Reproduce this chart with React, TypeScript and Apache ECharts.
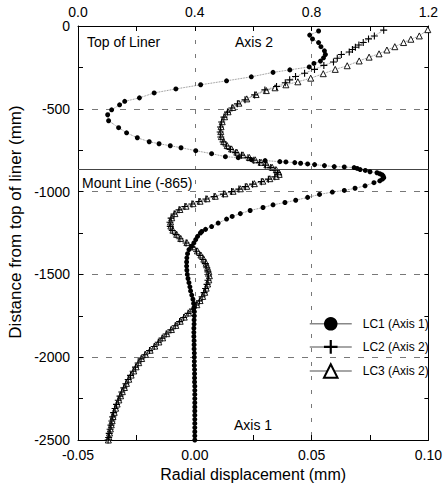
import React, { useEffect, useRef } from "react";
import * as echarts from "echarts";

// LC1 on Axis 1 (bottom, mm): [radial displacement, depth]
const LC1_POINTS: [number, number][] = [
  [0.053, -30], [0.0492, -55], [0.0504, -78], [0.053, -100], [0.054, -125], [0.0555, -150],
  [0.0559, -172], [0.0551, -192], [0.0538, -212], [0.051, -226], [0.049, -247], [0.0407, -265],
  [0.0335, -280], [0.0242, -307], [0.0136, -331], [0.0025, -355], [-0.0081, -380], [-0.0174, -404],
  [-0.0237, -434], [-0.03, -455], [-0.0322, -476], [-0.0356, -506], [-0.0373, -536], [-0.0369, -572],
  [-0.0326, -614], [-0.0292, -645], [-0.0246, -675], [-0.0195, -699], [-0.0153, -711], [-0.0105, -723],
  [-0.0059, -735], [0.0004, -753], [0.0072, -771], [0.0131, -789], [0.0186, -795], [0.0242, -807],
  [0.0301, -813], [0.0364, -819], [0.039, -821], [0.0428, -825], [0.0453, -829], [0.0483, -833],
  [0.0513, -837], [0.0555, -843], [0.0597, -849], [0.064, -851], [0.0682, -855], [0.0695, -860],
  [0.0708, -867], [0.073, -872], [0.075, -880], [0.078, -886], [0.0792, -892], [0.0801, -898],
  [0.0806, -905], [0.0809, -916], [0.0803, -925], [0.0792, -935], [0.0767, -946], [0.0729, -965],
  [0.0686, -980], [0.064, -993], [0.0589, -1003], [0.0534, -1017], [0.0483, -1035], [0.0432, -1052],
  [0.0386, -1066], [0.0335, -1080], [0.0292, -1096], [0.0237, -1114], [0.0195, -1133], [0.016, -1150],
  [0.0136, -1166], [0.01, -1190], [0.0072, -1211], [0.0046, -1228], [0.003, -1241], [0.0024, -1250],
  [0.0012, -1270], [0.0004, -1290], [-0.0004, -1310], [-0.0014, -1330], [-0.0025, -1350], [-0.0031, -1375],
  [-0.0034, -1400], [-0.0035, -1425], [-0.0035, -1450], [-0.0034, -1475], [-0.0032, -1500], [-0.0029, -1525],
  [-0.0025, -1550], [-0.0021, -1575], [-0.0018, -1600], [-0.0013, -1625], [-0.0008, -1650], [-0.0005, -1675],
  [-0.0003, -1700], [-0.0002, -1725], [-0.0002, -1750], [-0.0003, -1775], [-0.0003, -1800], [-0.0004, -1825],
  [-0.0004, -1850], [-0.0004, -1875], [-0.0003, -1900], [-0.0003, -1925], [-0.0003, -1950], [-0.0002, -1975],
  [-0.0002, -2000], [-0.0002, -2025], [-0.0002, -2050], [-0.0001, -2075], [-0.0001, -2100], [-0.0001, -2125],
  [-0.0001, -2150], [0.0, -2175], [0.0, -2200], [0.0, -2225], [0.0, -2250], [0.0, -2275], [0.0, -2300],
  [0.0, -2325], [0.0, -2350], [0.0, -2375], [0.0, -2400], [0.0, -2425], [0.0, -2450], [0.0, -2475], [0.0, -2500],
];

// LC2 on Axis 2 (top)
const LC2_POINTS: [number, number][] = [
  [1.047, -25], [1.015, -60], [0.995, -78], [0.977, -100], [0.962, -115], [0.95, -128], [0.94, -142],
  [0.929, -157], [0.902, -172], [0.888, -195], [0.875, -217], [0.842, -238], [0.81, -262], [0.776, -285],
  [0.745, -305], [0.725, -325], [0.71, -343], [0.68, -365], [0.64, -386], [0.605, -416], [0.572, -446],
  [0.546, -470], [0.527, -495], [0.512, -520], [0.5, -550], [0.492, -580], [0.488, -610], [0.487, -640],
  [0.489, -670], [0.497, -700], [0.508, -725], [0.522, -745], [0.54, -765], [0.56, -780], [0.582, -795],
  [0.602, -810], [0.622, -825], [0.642, -840], [0.66, -855], [0.675, -870], [0.683, -885], [0.684, -898],
  [0.674, -910], [0.652, -925], [0.628, -940], [0.598, -955], [0.573, -970], [0.551, -985], [0.526, -1000],
  [0.498, -1015], [0.466, -1030], [0.438, -1045], [0.414, -1060], [0.39, -1075], [0.366, -1090], [0.346, -1110],
  [0.329, -1135], [0.319, -1160], [0.315, -1185], [0.316, -1210], [0.323, -1235], [0.336, -1260], [0.349, -1285],
  [0.37, -1310], [0.391, -1335], [0.406, -1360], [0.418, -1385], [0.428, -1410], [0.436, -1435], [0.441, -1460],
  [0.445, -1485], [0.447, -1510], [0.445, -1535], [0.442, -1560], [0.437, -1585], [0.432, -1610], [0.425, -1635],
  [0.416, -1660], [0.405, -1685], [0.392, -1710], [0.377, -1735], [0.362, -1760], [0.348, -1785], [0.333, -1810],
  [0.318, -1835], [0.302, -1860], [0.288, -1885], [0.275, -1910], [0.261, -1935], [0.245, -1960], [0.229, -1985],
  [0.216, -2010], [0.206, -2035], [0.197, -2060], [0.189, -2085], [0.18, -2110], [0.172, -2135], [0.164, -2160],
  [0.157, -2185], [0.15, -2210], [0.144, -2235], [0.138, -2260], [0.132, -2285], [0.127, -2310], [0.122, -2335],
  [0.119, -2360], [0.116, -2385], [0.113, -2410], [0.11, -2435], [0.107, -2460], [0.105, -2485], [0.103, -2500],
];

// LC3 on Axis 2 (top)
const LC3_POINTS: [number, number][] = [
  [1.198, -22], [1.169, -60], [1.14, -80], [1.115, -100], [1.085, -125], [1.058, -145], [1.031, -168],
  [0.997, -188], [0.963, -211], [0.922, -240], [0.881, -262], [0.84, -288], [0.797, -315], [0.753, -337],
  [0.712, -355], [0.675, -373], [0.645, -390], [0.61, -414], [0.578, -440], [0.551, -466], [0.53, -492],
  [0.514, -518], [0.502, -548], [0.494, -578], [0.49, -608], [0.489, -638], [0.491, -668], [0.499, -698],
  [0.511, -722], [0.526, -742], [0.544, -762], [0.565, -778], [0.587, -794], [0.607, -808], [0.627, -823],
  [0.647, -838], [0.665, -853], [0.679, -868], [0.688, -883], [0.689, -896], [0.679, -908], [0.657, -922],
  [0.633, -937], [0.604, -952], [0.578, -968], [0.556, -983], [0.531, -998], [0.503, -1013], [0.47, -1028],
  [0.442, -1043], [0.418, -1058], [0.394, -1073], [0.37, -1088], [0.349, -1108], [0.332, -1133], [0.321, -1158],
  [0.317, -1183], [0.318, -1208], [0.325, -1233], [0.338, -1258], [0.352, -1283], [0.373, -1308], [0.394, -1333],
  [0.409, -1358], [0.421, -1383], [0.431, -1408], [0.439, -1433], [0.444, -1458], [0.448, -1483], [0.45, -1508],
  [0.448, -1533], [0.444, -1558], [0.439, -1583], [0.434, -1608], [0.427, -1633], [0.418, -1658], [0.407, -1683],
  [0.394, -1708], [0.379, -1733], [0.364, -1758], [0.35, -1783], [0.335, -1808], [0.32, -1833], [0.304, -1858],
  [0.29, -1883], [0.277, -1908], [0.263, -1933], [0.247, -1958], [0.231, -1983], [0.218, -2008], [0.208, -2033],
  [0.199, -2058], [0.191, -2083], [0.182, -2108], [0.174, -2133], [0.166, -2158], [0.159, -2183], [0.152, -2208],
  [0.146, -2233], [0.14, -2258], [0.134, -2283], [0.129, -2308], [0.124, -2333], [0.12, -2358], [0.117, -2383],
  [0.114, -2408], [0.111, -2433], [0.108, -2458], [0.106, -2483], [0.104, -2500],
];

const SERIES_NAMES = ["LC1 (Axis 1)", "LC2 (Axis 2)", "LC3 (Axis 2)"];
const MOUNT_LINE = -865;
const MOUNT_LABEL = "Mount Line (-865)";

const FONT = "'Liberation Sans', Arial, Helvetica, sans-serif";
const PLUS = "path://M4.2,0h1.6v4.2h4.2v1.6h-4.2v4.2h-1.6v-4.2h-4.2v-1.6h4.2z";

export default function App() {
  const ref = useRef<HTMLDivElement>(null);

  useEffect(() => {
    if (!ref.current) return;
    const chart = echarts.init(ref.current, null, { renderer: "svg" });
    const thinLine = { width: 0.8, color: "#666", type: "dotted" as const };

    chart.setOption({
      animation: false,
      backgroundColor: "#fff",
      grid: { left: 78, top: 26, right: 13, bottom: 49, containLabel: false },
      textStyle: { fontFamily: FONT },
      xAxis: [
        {
          type: "value",
          position: "bottom",
          min: -0.05,
          max: 0.1,
          interval: 0.05,
          name: "Radial displacement (mm)",
          nameLocation: "middle",
          nameGap: 25,
          nameTextStyle: { fontSize: 16, color: "#000", fontFamily: FONT },
          axisLine: { show: true, onZero: false, lineStyle: { color: "#000", width: 1 } },
          axisTick: { show: true, inside: true, length: 5, lineStyle: { color: "#000" } },
          minorTick: { show: true, splitNumber: 2, length: 5, lineStyle: { color: "#000" } },
          axisLabel: {
            fontSize: 14, color: "#000", margin: 8, fontFamily: FONT,
            formatter: (v: number) => v.toFixed(2),
          },
          splitLine: { show: true, lineStyle: { color: "#555", width: 0.8, type: [4, 10] } },
        },
        {
          type: "value",
          position: "top",
          min: 0,
          max: 1.2,
          interval: 0.4,
          axisLine: { show: true, onZero: false, lineStyle: { color: "#000", width: 1 } },
          axisTick: { show: true, inside: true, length: 5, lineStyle: { color: "#000" } },
          minorTick: { show: true, splitNumber: 2, length: 5, lineStyle: { color: "#000" } },
          axisLabel: {
            fontSize: 14, color: "#000", margin: 7, fontFamily: FONT,
            formatter: (v: number) => v.toFixed(1),
          },
          splitLine: { show: false },
        },
      ],
      yAxis: [
        {
          type: "value",
          position: "left",
          min: -2500,
          max: 0,
          interval: 500,
          axisLine: { show: true, onZero: false, lineStyle: { color: "#000", width: 1 } },
          axisTick: { show: true, inside: true, length: 5, lineStyle: { color: "#000" } },
          minorTick: { show: true, splitNumber: 2, length: 5, lineStyle: { color: "#000" } },
          axisLabel: {
            fontSize: 14, color: "#000", margin: 8, fontFamily: FONT,
            formatter: (v: number) => String(v),
          },
          splitLine: { show: true, lineStyle: { color: "#555", width: 0.8, type: [6, 8] } },
        },
        {
          type: "value",
          position: "right",
          min: -2500,
          max: 0,
          interval: 500,
          axisLine: { show: true, onZero: false, lineStyle: { color: "#000", width: 1 } },
          axisTick: { show: true, inside: true, length: 4, lineStyle: { color: "#000" } },
          minorTick: { show: true, splitNumber: 2, length: 4, lineStyle: { color: "#000" } },
          axisLabel: { show: false },
          splitLine: { show: false },
        },
      ],
      legend: {
        orient: "vertical",
        left: 304,
        top: 312,
        itemWidth: 42,
        itemHeight: 17,
        itemGap: 9.5,
        data: SERIES_NAMES,
        lineStyle: { type: "solid", width: 1.5, color: "#888" },
        textStyle: { fontSize: 12, color: "#000", fontFamily: FONT, padding: [0, 0, 0, 6] },
      },
      series: [
        {
          name: SERIES_NAMES[2],
          type: "line",
          xAxisIndex: 1,
          yAxisIndex: 0,
          data: LC3_POINTS,
          symbol: "triangle",
          symbolSize: 6,
          itemStyle: { color: "#fff", borderColor: "#000", borderWidth: 0.9 },
          lineStyle: thinLine,
          z: 3,
        },
        {
          name: SERIES_NAMES[1],
          type: "line",
          xAxisIndex: 1,
          yAxisIndex: 0,
          data: LC2_POINTS,
          symbol: PLUS,
          symbolSize: 7,
          itemStyle: { color: "#000" },
          lineStyle: thinLine,
          z: 4,
        },
        {
          name: SERIES_NAMES[0],
          type: "line",
          xAxisIndex: 0,
          yAxisIndex: 0,
          data: LC1_POINTS,
          symbol: "circle",
          symbolSize: 5,
          itemStyle: { color: "#000" },
          lineStyle: thinLine,
          z: 5,
          markLine: {
            silent: true,
            symbol: ["none", "none"],
            label: { show: false },
            lineStyle: { color: "#444", width: 1, type: "solid" },
            data: [{ yAxis: MOUNT_LINE }],
          },
        },
      ],
      graphic: [
        {
          type: "text", x: 87, y: 42,
          style: { text: "Top of Liner", fontSize: 14, fontFamily: FONT, fill: "#000", textVerticalAlign: "middle" },
        },
        {
          type: "text", x: 235, y: 42,
          style: { text: "Axis 2", fontSize: 14, fontFamily: FONT, fill: "#000", textVerticalAlign: "middle" },
        },
        {
          type: "text", x: 82, y: 183,
          style: { text: MOUNT_LABEL, fontSize: 14, fontFamily: FONT, fill: "#000", textVerticalAlign: "middle" },
        },
        {
          type: "text", x: 234, y: 425,
          style: { text: "Axis 1", fontSize: 14, fontFamily: FONT, fill: "#000", textVerticalAlign: "middle" },
        },
        {
          type: "text", x: 15, y: 222, rotation: Math.PI / 2,
          style: {
            text: "Distance from top of liner (mm)", fontSize: 17, fontFamily: FONT, fill: "#000",
            textAlign: "center", textVerticalAlign: "middle",
          },
        },
      ],
    });

    return () => chart.dispose();
  }, []);

  return <div ref={ref} style={{ width: 445, height: 489, position: "fixed", left: 0, top: 0 }} />;
}
